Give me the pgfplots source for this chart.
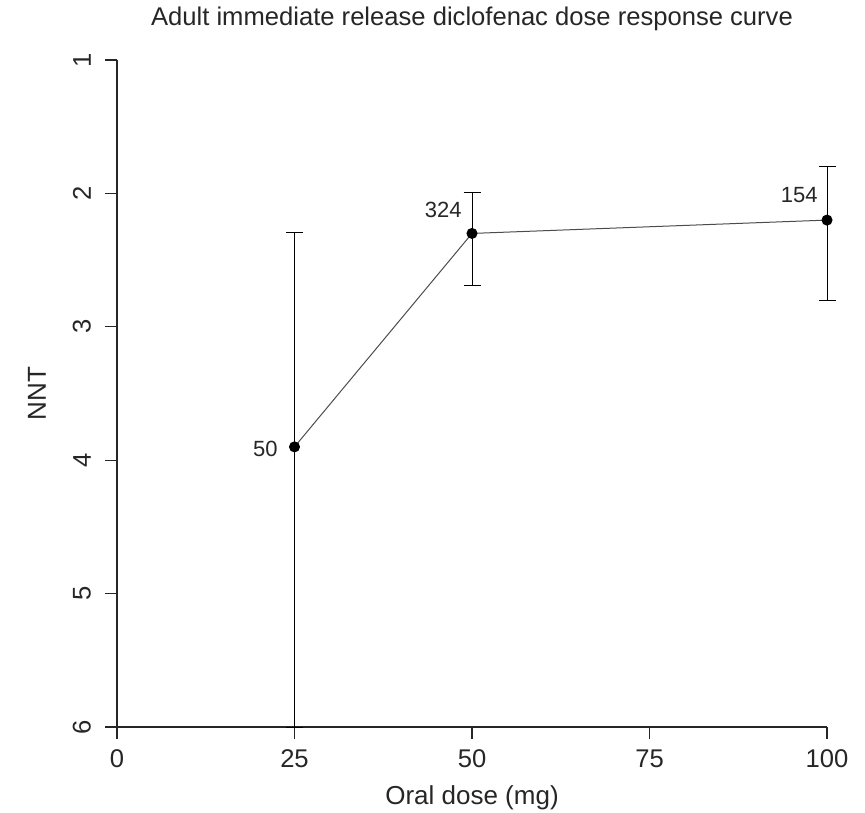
\documentclass[border=0pt]{standalone}
\usepackage{pgfplots}
\pgfplotsset{compat=1.18}
\usepackage{fontspec}
\setmainfont{Liberation Sans}

\pgfplotstableread{
x   y     ep    em
25  3.90  2.10  1.61
50  2.30  0.39  0.31
100 2.20  0.60  0.40
}\dosedata

\begin{document}
\begin{tikzpicture}
  \begin{axis}[
    scale only axis,
    width=355pt, height=333.5pt,
    xmin=0, xmax=100, ymin=1, ymax=6,
    y dir=reverse,
    axis x line*=bottom, axis y line*=left,
    axis line style={black!85, line width=0.6pt, -},
    xtick={0,25,50,75,100}, ytick={1,2,3,4,5,6},
    tick align=outside, major tick length=6pt,
    tick style={black!85, line width=0.6pt},
    /pgf/number format/assume math mode=true,
    ticklabel style={font=\fontsize{12.8}{14}\selectfont, text=black!85},
    yticklabel style={rotate=90, anchor=south},
    yticklabel shift=3.5pt, xticklabel shift=2pt,
    xlabel={Oral dose (mg)}, ylabel={NNT},
    label style={font=\fontsize{13}{15}\selectfont, text=black!85},
    xlabel style={at={(0.5,-0.106)}, anchor=center},
    ylabel style={at={(-0.1127,0.5)}, anchor=center},
    title={Adult immediate release diclofenac dose response curve},
    title style={font=\fontsize{12.8}{14}\selectfont, text=black!85, at={(0.5,1.0435)}, anchor=center},
    clip=false,
  ]
    \addplot[black!70, line width=0.5pt, mark=*, mark size=2.5pt,
      mark options={black, fill=black},
      error bars/.cd, y dir=both, y explicit,
      error mark options={rotate=90, black, mark size=4.25pt, line width=0.5pt},
      error bar style={black, line width=0.5pt}]
      table[x=x, y=y, y error plus=ep, y error minus=em] {\dosedata};
    \node[anchor=east, inner sep=0pt, font=\fontsize{11}{13}\selectfont, text=black!85,
      xshift=-8.25pt, yshift=-1pt] at (axis cs:25,3.90) {50};
    \node[anchor=east, inner sep=0pt, font=\fontsize{11}{13}\selectfont, text=black!85,
      xshift=-5pt, yshift=11.7pt] at (axis cs:50,2.30) {324};
    \node[anchor=east, inner sep=0pt, font=\fontsize{11}{13}\selectfont, text=black!85,
      xshift=-4.5pt, yshift=12.5pt] at (axis cs:100,2.20) {154};
  \end{axis}
  \pgfresetboundingbox
  \path[use as bounding box]
    ([xshift=-58.5pt,yshift=-42.5pt]current axis.south west)
    rectangle ([xshift=374pt,yshift=363.5pt]current axis.south west);
\end{tikzpicture}
\end{document}
